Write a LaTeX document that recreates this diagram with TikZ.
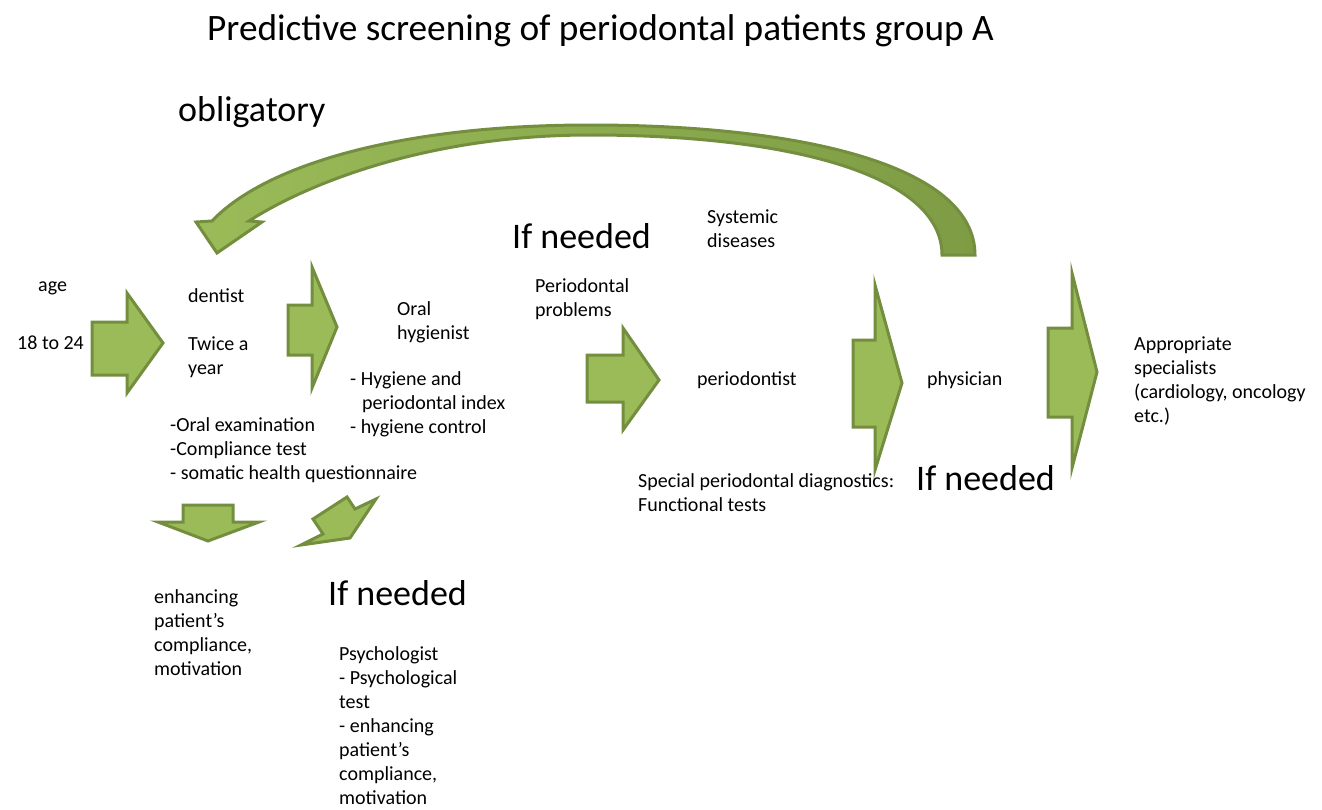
\documentclass[tikz,border=0pt]{standalone}
\usepackage{fontspec}
\setmainfont{Carlito}
\usepackage{tikz}

\definecolor{arrowfill}{HTML}{9BBB59}
\definecolor{arrowline}{HTML}{738E3E}
\definecolor{arrowdark}{HTML}{7E9C44}

\begin{document}
\begin{tikzpicture}[x=1pt, y=-1pt,
    every node/.style={anchor=base west, inner sep=0pt, align=left},
    txt/.style={font=\fontsize{20}{24}\selectfont},
    big/.style={font=\fontsize{36}{40}\selectfont},
    blockarrow/.style={draw=arrowline, fill=arrowfill, line width=3pt, line join=miter}]
    \useasboundingbox (0,0) rectangle (1322,809);
    % headings
    \node[font=\fontsize{37.3}{42}\selectfont] (title) at (207,40) {Predictive screening of periodontal patients group A};
    \node[big] (oblig) at (178,121) {obligatory};
    \node[big] (needtop) at (512,248) {If needed};
    \node[big] (needright) at (916,490) {If needed};
    \node[big] (needbottom) at (328,605) {If needed};
    % texts (multi-line nodes sit on their last line)
    \node[txt] (age) at (38,291) {age};
    \node[txt] (range) at (17,349) {18 to 24};
    \node[txt] (dentist) at (188,302) {dentist};
    \node[txt] (twice) at (188,374) {Twice a\\year};
    \node[txt] (exam) at (170,479) {-Oral examination\\-Compliance test\\- somatic health questionnaire};
    \node[txt] (hygienist) at (397,339) {Oral\\hygienist};
    \node[txt] (index) at (350,433) {- Hygiene and\\\hspace*{12pt}periodontal index\\- hygiene control};
    \node[txt] (problems) at (535,316) {Periodontal\\problems};
    \node[txt] (systemic) at (707,247) {Systemic\\diseases};
    \node[txt] (perio) at (697,385) {periodontist};
    \node[txt] (special) at (638,511) {Special periodontal diagnostics:\\Functional tests};
    \node[txt] (physician) at (927,385) {physician};
    \node[txt] (specialists) at (1134,422) {Appropriate\\specialists\\(cardiology, oncology\\etc.)};
    \node[txt] (enhance) at (154,675) {enhancing\\patient’s\\compliance,\\motivation};
    \node[txt] (psych) at (339,804) {Psychologist\\- Psychological\\test\\- enhancing\\patient’s\\compliance,\\motivation};
    % block arrows
    \draw[blockarrow] (92,322) -- (127,322) -- (127,293) -- (163,343) -- (127,393) -- (127,375) -- (92,375) -- cycle;
    \draw[blockarrow] (288,305) -- (312,305) -- (312,267) -- (337,327) -- (312,388) -- (312,355) -- (288,355) -- cycle;
    \draw[blockarrow] (587,355) -- (623,355) -- (623,328) -- (659,380) -- (623,430) -- (623,402) -- (587,402) -- cycle;
    \draw[blockarrow] (853,340) -- (875,340) -- (875,285) -- (902,383) -- (875,470) -- (875,427) -- (853,427) -- cycle;
    \draw[blockarrow] (1048,328) -- (1072,328) -- (1072,273) -- (1097,372) -- (1072,468) -- (1072,417) -- (1048,417) -- cycle;
    \draw[blockarrow] (183,505) -- (233,505) -- (233,522) -- (259,522) -- (208,541) -- (158,522) -- (183,522) -- cycle;
    \draw[blockarrow] (301,545) -- (323,534) -- (313,519) -- (347,497) -- (355,509) -- (376,499) -- (350,538) -- cycle;
    % curved return arrow
    \path[draw=arrowline, line width=3pt, line join=miter, left color=arrowfill, right color=arrowdark]
      (942,255) -- (975,255) .. controls (975,165) and (800,125) .. (590,125)
      .. controls (400,125) and (265,165) .. (212,221) -- (196,222) -- (217,253) -- (262,222) -- (249,221)
      .. controls (300,188) and (420,135) .. (590,135) .. controls (790,135) and (942,175) .. (942,255) -- cycle;
\end{tikzpicture}
\end{document}
